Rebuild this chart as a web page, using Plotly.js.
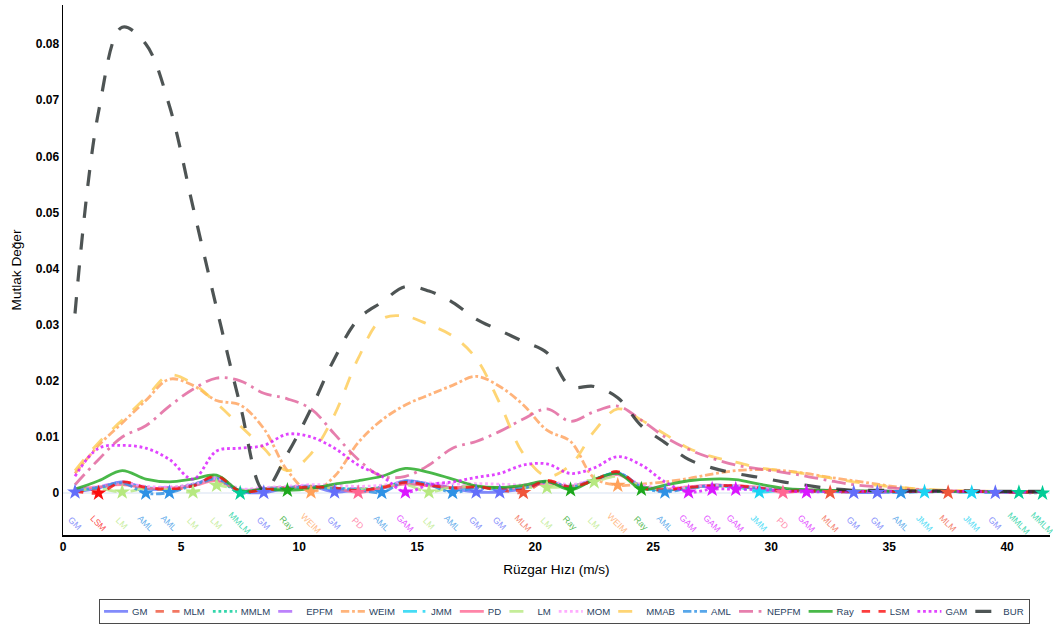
<!DOCTYPE html>
<html>
<head>
<meta charset="utf-8">
<script src="https://cdn.plot.ly/plotly-3.0.1.min.js"></script>
<style>
html,body{margin:0;padding:0;background:#fff;overflow:hidden;width:1053px;height:628px;}
#chart{width:1316px;height:785px;transform:scale(0.8);transform-origin:0 0;}
</style>
</head>
<body>
<div id="chart"></div>
<script>
// Wind speed bin centres (m/s)
const windSpeed = [0.5,1.5,2.5,3.5,4.5,5.5,6.5,7.5,8.5,9.5,10.5,11.5,12.5,13.5,14.5,15.5,16.5,17.5,18.5,19.5,20.5,21.5,22.5,23.5,24.5,25.5,26.5,27.5,28.5,29.5,30.5,31.5,32.5,33.5,34.5,35.5,36.5,37.5,38.5,39.5,40.5,41.5];

const methodNames = ["GM","MLM","MMLM","EPFM","WEIM","JMM","PD","LM","MOM","MMAB","AML","NEPFM","Ray","LSM","GAM","BUR"];

const GM    = [0.0002,0.0009,0.0020,0.0008,0.0007,0.0015,0.0027,0.0003,0.0001,0.0009,0.0012,0.0002,0.0006,0.0008,0.0022,0.0016,0.0008,0.0002,0.0002,0.0008,0.0021,0.0010,0.0024,0.0036,0.0012,0.0005,0.0009,0.0014,0.0012,0.0008,0.0005,0.0004,0.0003,0.0001,0.0001,0.0003,0.0003,0.0003,0.0003,0.0001,0.0002,0.0002];
const MLM   = [0.0004,0.0008,0.0019,0.0010,0.0006,0.0013,0.0031,0.0003,0.0006,0.0008,0.0011,0.0009,0.0005,0.0010,0.0018,0.0014,0.0009,0.0011,0.0006,0.0001,0.0022,0.0011,0.0023,0.0038,0.0010,0.0006,0.0010,0.0013,0.0013,0.0009,0.0004,0.0004,0.0001,0.0003,0.0003,0.0003,0.0003,0.0001,0.0003,0.0002,0.0002,0.0002];
const MMLM  = [0.0006,0.0011,0.0017,0.0009,0.0009,0.0016,0.0025,0.0000,0.0008,0.0010,0.0012,0.0009,0.0007,0.0010,0.0019,0.0015,0.0010,0.0010,0.0008,0.0010,0.0019,0.0012,0.0024,0.0035,0.0012,0.0006,0.0010,0.0014,0.0012,0.0009,0.0006,0.0005,0.0004,0.0003,0.0003,0.0003,0.0003,0.0003,0.0003,0.0002,0.0001,0.0000];
const EPFM  = [0.0007,0.0012,0.0018,0.0011,0.0010,0.0015,0.0026,0.0006,0.0008,0.0010,0.0013,0.0010,0.0008,0.0011,0.0020,0.0016,0.0011,0.0012,0.0009,0.0010,0.0020,0.0012,0.0025,0.0034,0.0013,0.0007,0.0010,0.0014,0.0013,0.0009,0.0006,0.0005,0.0004,0.0004,0.0004,0.0003,0.0003,0.0003,0.0003,0.0003,0.0002,0.0002];
const WEIM  = [0.0035,0.0085,0.0125,0.0165,0.0203,0.0192,0.0165,0.0157,0.0115,0.0040,0.0002,0.0030,0.0090,0.0130,0.0157,0.0175,0.0192,0.0208,0.0190,0.0157,0.0112,0.0092,0.0027,0.0014,0.0016,0.0020,0.0026,0.0034,0.0040,0.0042,0.0040,0.0035,0.0028,0.0022,0.0016,0.0010,0.0006,0.0004,0.0003,0.0003,0.0003,0.0003];
const JMM   = [0.0005,0.0010,0.0016,0.0010,0.0008,0.0013,0.0024,0.0004,0.0007,0.0009,0.0010,0.0008,0.0006,0.0009,0.0017,0.0014,0.0009,0.0009,0.0007,0.0009,0.0020,0.0011,0.0023,0.0036,0.0011,0.0005,0.0009,0.0012,0.0011,0.0002,0.0005,0.0004,0.0003,0.0003,0.0003,0.0003,0.0002,0.0003,0.0001,0.0002,0.0002,0.0002];
const PD    = [0.0006,0.0011,0.0015,0.0009,0.0009,0.0013,0.0022,0.0005,0.0008,0.0010,0.0011,0.0009,0.0001,0.0009,0.0016,0.0013,0.0010,0.0011,0.0009,0.0010,0.0018,0.0012,0.0022,0.0033,0.0012,0.0007,0.0011,0.0014,0.0013,0.0010,0.0001,0.0005,0.0004,0.0003,0.0003,0.0003,0.0003,0.0003,0.0003,0.0002,0.0002,0.0002];
const LM    = [0.0004,0.0008,0.0002,0.0008,0.0006,0.0002,0.0014,0.0005,0.0007,0.0009,0.0011,0.0009,0.0007,0.0012,0.0015,0.0002,0.0011,0.0012,0.0009,0.0010,0.0010,0.0012,0.0020,0.0030,0.0013,0.0006,0.0009,0.0012,0.0011,0.0008,0.0005,0.0004,0.0003,0.0003,0.0003,0.0003,0.0003,0.0003,0.0003,0.0002,0.0002,0.0002];
const MOM   = [0.0008,0.0012,0.0018,0.0012,0.0011,0.0016,0.0026,0.0008,0.0010,0.0012,0.0015,0.0014,0.0012,0.0014,0.0020,0.0018,0.0016,0.0017,0.0016,0.0015,0.0021,0.0015,0.0024,0.0034,0.0015,0.0009,0.0011,0.0014,0.0013,0.0010,0.0007,0.0006,0.0005,0.0004,0.0004,0.0004,0.0003,0.0003,0.0003,0.0003,0.0003,0.0003];
const MMAB  = [0.0040,0.0090,0.0130,0.0170,0.0210,0.0195,0.0160,0.0120,0.0080,0.0040,0.0070,0.0140,0.0240,0.0310,0.0315,0.0300,0.0280,0.0240,0.0160,0.0070,0.0030,0.0050,0.0110,0.0150,0.0130,0.0105,0.0080,0.0065,0.0055,0.0045,0.0040,0.0034,0.0027,0.0020,0.0014,0.0010,0.0007,0.0005,0.0004,0.0003,0.0003,0.0003];
const AML   = [0.0005,0.0010,0.0018,0.0000,0.0001,0.0014,0.0025,0.0004,0.0007,0.0009,0.0011,0.0008,0.0006,0.0001,0.0021,0.0015,0.0001,0.0010,0.0008,0.0009,0.0020,0.0011,0.0023,0.0036,0.0011,0.0002,0.0009,0.0013,0.0012,0.0008,0.0005,0.0004,0.0003,0.0003,0.0003,0.0001,0.0003,0.0003,0.0003,0.0002,0.0002,0.0002];
const NEPFM = [0.0015,0.0060,0.0100,0.0120,0.0155,0.0185,0.0205,0.0200,0.0178,0.0168,0.0150,0.0105,0.0060,0.0030,0.0030,0.0050,0.0080,0.0092,0.0110,0.0132,0.0150,0.0128,0.0145,0.0155,0.0130,0.0100,0.0078,0.0062,0.0050,0.0043,0.0037,0.0030,0.0022,0.0015,0.0011,0.0008,0.0005,0.0004,0.0004,0.0003,0.0003,0.0003];
const Ray   = [0.0007,0.0022,0.0040,0.0025,0.0020,0.0025,0.0032,0.0004,0.0007,0.0005,0.0008,0.0016,0.0022,0.0030,0.0044,0.0037,0.0025,0.0013,0.0010,0.0014,0.0021,0.0006,0.0024,0.0035,0.0007,0.0014,0.0022,0.0025,0.0024,0.0016,0.0009,0.0006,0.0005,0.0004,0.0004,0.0003,0.0003,0.0003,0.0003,0.0003,0.0002,0.0002];
const LSM   = [0.0004,0.0000,0.0020,0.0010,0.0007,0.0013,0.0030,0.0003,0.0006,0.0008,0.0011,0.0009,0.0005,0.0010,0.0019,0.0014,0.0009,0.0011,0.0006,0.0006,0.0022,0.0011,0.0023,0.0038,0.0010,0.0006,0.0010,0.0013,0.0013,0.0009,0.0004,0.0004,0.0003,0.0003,0.0003,0.0003,0.0003,0.0003,0.0003,0.0002,0.0002,0.0002];
const GAM   = [0.0030,0.0080,0.0085,0.0080,0.0060,0.0025,0.0075,0.0080,0.0085,0.0105,0.0100,0.0080,0.0050,0.0030,0.0002,0.0015,0.0020,0.0028,0.0035,0.0050,0.0052,0.0035,0.0045,0.0065,0.0050,0.0020,0.0002,0.0007,0.0007,0.0006,0.0004,0.0002,0.0003,0.0003,0.0003,0.0003,0.0003,0.0003,0.0003,0.0002,0.0002,0.0002];
const BUR   = [0.0320,0.0680,0.0830,0.0800,0.0690,0.0510,0.0330,0.0157,0.0005,0.0070,0.0150,0.0240,0.0310,0.0340,0.0368,0.0360,0.0340,0.0310,0.0290,0.0270,0.0250,0.0190,0.0190,0.0170,0.0120,0.0090,0.0060,0.0045,0.0035,0.0028,0.0020,0.0014,0.0008,0.0005,0.0005,0.0004,0.0004,0.0004,0.0004,0.0003,0.0003,0.0003];

// Best (lowest) method label at each wind speed bin
const bestMethod = ["GM","LSM","LM","AML","AML","LM","LM","MMLM","GM","Ray","WEIM","GM","PD","AML","GAM","LM","AML","GM","GM","MLM","LM","Ray","LM","WEIM","Ray","AML","GAM","GAM","GAM","JMM","PD","GAM","MLM","GM","GM","AML","JMM","MLM","JMM","GM","MMLM","MMLM"];

const seriesValues = {GM,MLM,MMLM,EPFM,WEIM,JMM,PD,LM,MOM,MMAB,AML,NEPFM,Ray,LSM,GAM,BUR};
const colors = {GM:"#636EFA",MLM:"#EF553B",MMLM:"#00CC96",EPFM:"#AB63FA",WEIM:"#FFA15A",JMM:"#19D3F3",PD:"#FF6692",LM:"#B6E880",MOM:"#FF97FF",MMAB:"#FECB52",AML:"#2E91E5",NEPFM:"#E15F99",Ray:"#1CA71C",LSM:"#FB0D0D",GAM:"#DA16FF",BUR:"#222A2A"};
const dashes = {GM:"solid",MLM:"dash",MMLM:"dot",EPFM:"longdash",WEIM:"dashdot",JMM:"longdashdot",PD:"solid",LM:"longdash",MOM:"dot",MMAB:"longdash",AML:"dashdot",NEPFM:"longdashdot",Ray:"solid",LSM:"dash",GAM:"dot",BUR:"longdash"};
const widths = {BUR: 4};

const traces = methodNames.map(n => ({
  type: "scatter", mode: "lines", name: n,
  x: windSpeed, y: seriesValues[n],
  line: {color: colors[n], dash: dashes[n], width: widths[n] || 3.5, shape: "spline", smoothing: 1},
  opacity: 0.8
}));

traces.push({
  type: "scatter", mode: "markers", showlegend: false, hoverinfo: "skip",
  x: windSpeed,
  y: bestMethod.map((m, i) => seriesValues[m][i]),
  marker: {symbol: "star", size: 15, color: bestMethod.map(m => colors[m]), line: {width: 0}}
});

const annotations = bestMethod.map((m, i) => ({
  x: windSpeed[i], y: -0.0053, xref: "x", yref: "y",
  text: m, showarrow: false, textangle: 45,
  font: {family: "Liberation Sans, Arial, sans-serif", size: 11, color: colors[m]},
  opacity: 0.75
}));

const layout = {
  width: 1316, height: 785,
  margin: {l: 79, r: 4, t: 6, b: 116},
  paper_bgcolor: "#fff", plot_bgcolor: "#fff",
  font: {family: "Liberation Sans, Arial, sans-serif", color: "#000"},
  showlegend: true,
  legend: {
    orientation: "h", x: 0.508, xanchor: "center", y: -0.12, yanchor: "top",
    bordercolor: "#444", borderwidth: 1.2,
    font: {size: 12, color: "#2a3f5f"}
  },
  xaxis: {
    range: [0, 41.8], showgrid: false, zeroline: false,
    showline: true, linecolor: "#000", linewidth: 2,
    tickvals: [0,5,10,15,20,25,30,35,40],
    tickfont: {size: 15, weight: 700, color: "#000"},
    ticks: "",
    title: {text: "Rüzgar Hızı (m/s)", font: {size: 17, color: "#000"}, standoff: 14}
  },
  yaxis: {
    range: [-0.0075, 0.087], showgrid: false,
    zeroline: true, zerolinecolor: "#EBF0F8", zerolinewidth: 2,
    showline: true, linecolor: "#000", linewidth: 2,
    tickvals: [0,0.01,0.02,0.03,0.04,0.05,0.06,0.07,0.08],
    ticktext: ["0","0.01","0.02","0.03","0.04","0.05","0.06","0.07","0.08"],
    tickfont: {size: 15, weight: 700, color: "#000"},
    ticks: "",
    title: {text: "Mutlak Değer", font: {size: 17, color: "#000"}, standoff: 14}
  },
  annotations: annotations
};

Plotly.newPlot("chart", traces, layout, {displayModeBar: false, responsive: false});
</script>
</body>
</html>
